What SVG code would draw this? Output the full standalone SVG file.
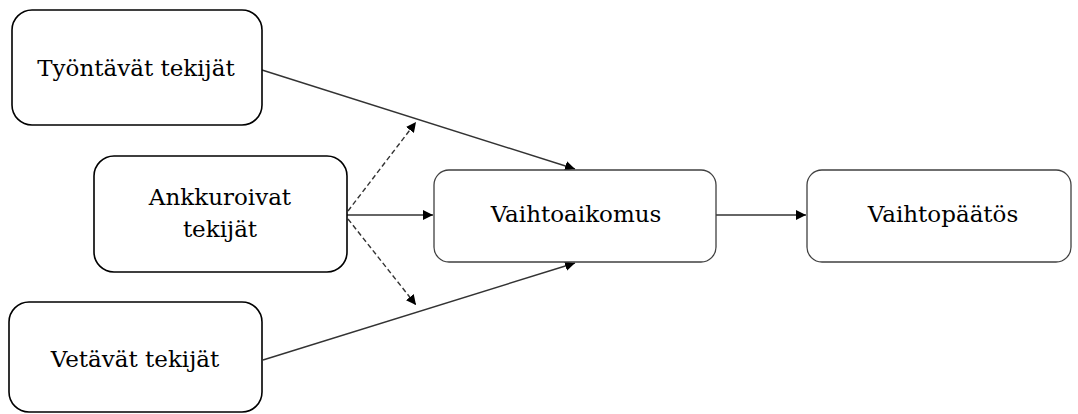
<svg xmlns="http://www.w3.org/2000/svg" width="1078" height="414" viewBox="0 0 1078 414">
  <style>
    .box { fill: #ffffff; stroke: #000000; stroke-width: 1.6; }
    .box2 { fill: #ffffff; stroke: #404040; stroke-width: 1.3; }
    .lbl { font-family: "DejaVu Serif", "Liberation Serif", serif; font-size: 23px; fill: #000000; text-anchor: middle; }
    .edge { fill: none; stroke: #333333; stroke-width: 1.4; }
    .dash { fill: none; stroke: #333333; stroke-width: 1.4; stroke-dasharray: 5 3; }
  </style>
  <defs>
    <marker id="arrow" viewBox="0 0 10 10" refX="10" refY="5" markerWidth="10" markerHeight="10" markerUnits="userSpaceOnUse" orient="auto">
      <path d="M0,0 L10,5 L0,10 z" fill="#000000"/>
    </marker>
  </defs>

  <rect width="1078" height="414" fill="#ffffff"/>

  <!-- connectors -->
  <g id="connectors">
    <line class="edge" x1="262" y1="70" x2="575" y2="169" marker-end="url(#arrow)"/>
    <line class="edge" x1="263" y1="360" x2="575" y2="263" marker-end="url(#arrow)"/>
    <line class="edge" x1="347" y1="215" x2="433" y2="215" marker-end="url(#arrow)"/>
    <line class="edge" x1="716" y1="215" x2="806" y2="215" marker-end="url(#arrow)"/>
    <line class="dash" x1="348" y1="211" x2="416" y2="122" marker-end="url(#arrow)"/>
    <line class="dash" x1="348" y1="219" x2="416" y2="305" marker-end="url(#arrow)"/>
  </g>

  <!-- nodes -->
  <g id="tyontavat">
    <rect class="box" x="12" y="10" width="250" height="115" rx="20" ry="20"/>
    <text class="lbl" x="136" y="76">Työntävät tekijät</text>
  </g>

  <g id="ankkuroivat">
    <rect class="box" x="94" y="156" width="253" height="116" rx="20" ry="20"/>
    <text class="lbl" x="220" y="205">Ankkuroivat</text>
    <text class="lbl" x="220" y="237">tekijät</text>
  </g>

  <g id="vetavat">
    <rect class="box" x="9" y="302" width="253" height="110" rx="20" ry="20"/>
    <text class="lbl" x="135" y="367">Vetävät tekijät</text>
  </g>

  <g id="vaihtoaikomus">
    <rect class="box2" x="434" y="170" width="282" height="92" rx="15" ry="15"/>
    <text class="lbl" x="576" y="222">Vaihtoaikomus</text>
  </g>

  <g id="vaihtopaatos">
    <rect class="box2" x="807" y="170" width="264" height="92" rx="15" ry="15"/>
    <text class="lbl" x="943" y="222">Vaihtopäätös</text>
  </g>
</svg>
